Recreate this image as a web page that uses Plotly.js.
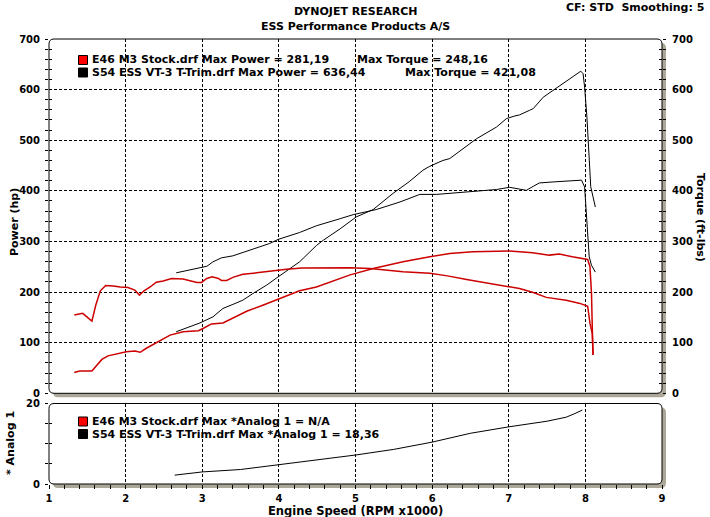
<!DOCTYPE html>
<html>
<head>
<meta charset="utf-8">
<script src="https://cdn.plot.ly/plotly-3.0.1.min.js"></script>
<style>
  html, body { margin: 0; padding: 0; background: #fff; }
  #chart { width: 710px; height: 517px; }
</style>
</head>
<body>
<div id="chart"></div>
<script>
// E46 M3 stock run (red)
const e46PowerRpm = [1.33, 1.40, 1.56, 1.62, 1.69, 1.77, 1.90, 2.01, 2.12, 2.19, 2.27, 2.40, 2.58, 2.75, 2.95, 3.01, 3.12, 3.27, 3.40, 3.58, 3.79, 4.01, 4.27, 4.49, 4.71, 4.93, 5.23, 5.45, 5.62, 5.97, 6.23, 6.53, 6.84, 7.01, 7.14, 7.31, 7.53, 7.66, 7.83, 7.99, 8.03, 8.06, 8.08, 8.09, 8.10];
const e46Power    = [41, 44, 44, 54, 67, 74, 79, 82, 83.5, 81, 89, 100.6, 115, 121.6, 123.6, 128, 137, 139, 149, 162, 174, 187.5, 202.5, 210, 222, 234, 246.7, 254, 260, 269.6, 276, 279.5, 280.5, 281.2, 279.5, 277.5, 273, 275, 269.6, 266, 264.5, 250, 197, 131, 75.6];
const e46TorqueRpm = [1.33, 1.44, 1.56, 1.61, 1.67, 1.74, 1.84, 1.93, 2.03, 2.12, 2.18, 2.24, 2.32, 2.40, 2.49, 2.60, 2.75, 2.84, 2.93, 2.99, 3.06, 3.13, 3.21, 3.25, 3.32, 3.40, 3.53, 3.71, 3.90, 4.10, 4.30, 4.58, 4.93, 5.19, 5.45, 5.62, 5.97, 6.20, 6.45, 6.70, 7.01, 7.14, 7.32, 7.49, 7.75, 7.93, 8.03, 8.06, 8.09, 8.10];
const e46Torque    = [154.5, 158, 142.7, 174, 202.5, 213, 212, 209.8, 209, 204, 194, 202.5, 210, 219.6, 222, 227, 226, 223, 219, 219, 227, 230, 227, 223, 223, 229, 235, 238, 242, 245, 247.5, 248.2, 248, 246.7, 243, 240, 237, 232, 225, 218, 210, 207, 199, 189.5, 184, 177.6, 172, 138, 118, 75.6];

// S54 ESS VT-3 run (black)
const s54PowerRpm = [2.66, 2.84, 2.97, 3.14, 3.27, 3.40, 3.53, 3.66, 3.84, 3.99, 4.14, 4.27, 4.49, 4.58, 4.80, 5.01, 5.23, 5.49, 5.70, 5.88, 5.97, 6.14, 6.23, 6.40, 6.58, 6.84, 6.97, 7.08, 7.14, 7.27, 7.32, 7.45, 7.58, 7.75, 7.86, 7.94, 7.97, 7.99, 8.02, 8.05, 8.07, 8.10, 8.13];
const s54Power    = [121.6, 131.4, 139, 151, 167.7, 175.6, 184, 197, 213.7, 230, 246.7, 259.7, 292, 302.5, 325, 348.5, 363, 395, 418, 440.7, 448.6, 460, 463.8, 482, 503, 526, 542.7, 548, 550, 559, 562.5, 585, 598.6, 618, 628, 636.4, 631.5, 605, 546, 467, 408, 388, 368];
const s54TorqueRpm = [2.66, 2.80, 2.93, 3.06, 3.14, 3.25, 3.40, 3.53, 3.71, 3.88, 3.99, 4.14, 4.27, 4.49, 4.58, 4.80, 4.97, 5.27, 5.58, 5.84, 6.06, 6.45, 6.84, 7.01, 7.19, 7.23, 7.32, 7.40, 7.58, 7.75, 7.95, 7.99, 8.02, 8.05, 8.08, 8.13];
const s54Torque    = [238, 243, 246.7, 251, 259.7, 267.6, 271.6, 278, 288, 296, 304, 311, 317.7, 331, 335.5, 345, 353, 363, 378, 393, 393, 398, 402.6, 407, 402.6, 401, 409, 415.6, 417.6, 419, 421.1, 407.7, 329, 269.6, 253, 239.4];
const s54AnalogRpm = [2.64, 3.0, 3.5, 4.0, 4.4, 5.0, 5.5, 6.0, 6.5, 7.0, 7.5, 7.75, 7.85, 7.96];
const s54Analog    = [2.2, 3.0, 3.6, 4.8, 5.6, 7.2, 8.6, 10.4, 12.6, 14.2, 15.6, 16.6, 17.4, 18.36];

const analogTicks = [0, 5, 10, 15, 20];
const analogTickText = ['0', '', '', '', '20'];

// plot frame in page pixels
const L = 49, R = 662, T = 39, B = 484;
const W = R - L, H = B - T;
const px = x => (x - L) / W;
const py = y => (B - y) / H;
const mainBottom = 393.3, lowTop = 403.5;

const RED = '#cc0000';
const font = { family: 'DejaVu Sans', size: 11, color: '#000', weight: 'bold' };
const tickFont = { family: 'DejaVu Sans', size: 10, color: '#000', weight: 'bold' };

function roundRect(x0, y0, x1, y1, r) {
    const p = (x, y) => px(x).toFixed(5) + ',' + py(y).toFixed(5);
    return 'M' + p(x0 + r, y0) + ' L' + p(x1 - r, y0) + ' Q' + p(x1, y0) + ' ' + p(x1, y0 + r) +
        ' L' + p(x1, y1 - r) + ' Q' + p(x1, y1) + ' ' + p(x1 - r, y1) +
        ' L' + p(x0 + r, y1) + ' Q' + p(x0, y1) + ' ' + p(x0, y1 - r) +
        ' L' + p(x0, y0 + r) + ' Q' + p(x0, y0) + ' ' + p(x0 + r, y0) + ' Z';
}

function frame(y0, y1) {
    return [
        { type: 'path', xref: 'paper', yref: 'paper', layer: 'below', path: roundRect(L + 4, y0 + 4, R + 4, y1 + 4, 5),
          fillcolor: '#aca899', line: { width: 0 } },
        { type: 'path', xref: 'paper', yref: 'paper', layer: 'below', path: roundRect(L, y0, R, y1, 5),
          fillcolor: '#fff', line: { color: '#000', width: 1 } }
    ];
}

function swatch(y, color) {
    return { type: 'rect', xref: 'paper', yref: 'paper', layer: 'above',
        x0: px(78.5), x1: px(87.5), y0: py(y - 4.5), y1: py(y + 4.5),
        fillcolor: color, line: { color: '#000', width: 1 } };
}

function label(text, x, y, opts = {}) {
    return Object.assign({ text: text, xref: 'paper', yref: 'paper', x: px(x), y: py(y),
        xanchor: 'left', yanchor: 'middle', showarrow: false, font: font }, opts);
}

const line = (x, y, color, width, xa, ya) => ({
    x: x, y: y, type: 'scatter', mode: 'lines', xaxis: xa, yaxis: ya,
    line: { color: color, width: width }, hoverinfo: 'skip', showlegend: false
});
const dummy = (xa, ya) => ({ x: [null], y: [null], type: 'scatter', mode: 'lines', xaxis: xa, yaxis: ya, showlegend: false, hoverinfo: 'skip' });

const traces = [
    line(e46PowerRpm, e46Power, RED, 1.5, 'x', 'y'),
    line(e46TorqueRpm, e46Torque, RED, 1.5, 'x', 'y2'),
    line(s54PowerRpm, s54Power, '#000', 1, 'x', 'y'),
    line(s54TorqueRpm, s54Torque, '#000', 1, 'x', 'y2'),
    line(s54AnalogRpm, s54Analog, '#000', 1, 'x2', 'y5'),
    dummy('x', 'y3'), dummy('x', 'y4'), dummy('x2', 'y6')
];

const mainDomain = [py(mainBottom), 1];
const lowDomain = [0, py(lowTop)];
const grid = { showgrid: true, gridcolor: '#000', gridwidth: 1, griddash: '3px,2px' };
const tickOut = { ticks: 'outside', ticklen: 3, tickcolor: '#000', tickwidth: 1 };
const tickIn = { ticks: 'inside', ticklen: 3, tickcolor: '#000', tickwidth: 1 };

const layout = {
    width: 710, height: 517,
    margin: { l: L, r: 710 - R, t: T, b: 517 - B, pad: 0 },
    paper_bgcolor: '#fff', plot_bgcolor: 'rgba(0,0,0,0)',
    showlegend: false,
    xaxis: Object.assign({ domain: [0, 1], anchor: 'y', range: [1, 9], dtick: 1, ticks: '', showticklabels: false,
        showline: false, zeroline: false }, grid),
    yaxis: Object.assign({ domain: mainDomain, anchor: 'x', range: [0, 700], dtick: 100, showgrid: false, zeroline: false,
        showline: false, tickfont: tickFont, ticklabelstandoff: 3,
        minor: { dtick: 20, ticks: 'outside', ticklen: 3, tickcolor: '#000' } }, tickOut, grid),
    yaxis2: Object.assign({ overlaying: 'y', side: 'right', anchor: 'x', range: [0, 700], dtick: 100, showgrid: false,
        zeroline: false, showline: false, tickfont: tickFont, ticklabelstandoff: 4,
        minor: { dtick: 20, ticks: 'outside', ticklen: 3, tickcolor: '#000' } }, tickOut),
    yaxis3: Object.assign({ overlaying: 'y', side: 'left', anchor: 'x', range: [0, 700], dtick: 100, showgrid: false,
        zeroline: false, showline: false, showticklabels: false,
        minor: { dtick: 20, ticks: 'inside', ticklen: 3, tickcolor: '#000' } }, tickIn),
    yaxis4: Object.assign({ overlaying: 'y', side: 'right', anchor: 'x', range: [0, 700], dtick: 100, showgrid: false,
        zeroline: false, showline: false, showticklabels: false,
        minor: { dtick: 20, ticks: 'inside', ticklen: 3, tickcolor: '#000' } }, tickIn),
    xaxis2: Object.assign({ domain: [0, 1], anchor: 'y5', range: [1, 9], dtick: 1, zeroline: false, showline: false,
        tickfont: tickFont, ticks: 'outside', ticklen: 4, tickcolor: '#000', ticklabelstandoff: 1,
        minor: { dtick: 0.2, ticks: 'outside', ticklen: 4, tickcolor: '#000' } }, grid),
    yaxis5: Object.assign({ domain: lowDomain, anchor: 'x2', range: [0, 20], tickvals: analogTicks, ticktext: analogTickText,
        showgrid: false, zeroline: false, showline: false, tickfont: tickFont, ticklabelstandoff: 3,
        ticklabelshift: -1.5 }, tickOut),
    yaxis6: Object.assign({ overlaying: 'y5', side: 'left', anchor: 'x2', range: [0, 20], tickvals: analogTicks,
        showgrid: false, zeroline: false, showline: false, showticklabels: false }, tickIn),
    shapes: [].concat(frame(T, mainBottom), frame(lowTop, B), [
        swatch(60, '#ff0000'), swatch(72.5, '#000'),
        swatch(421.5, '#ff0000'), swatch(434, '#000')
    ]),
    annotations: [
        label('DYNOJET RESEARCH', 356, 11, { xanchor: 'center' }),
        label('ESS Performance Products A/S', 356, 26, { xanchor: 'center' }),
        label('CF: STD\u00a0\u00a0Smoothing: 5', 706, 8, { xanchor: 'right' }),
        label('E46 M3 Stock.drf Max Power = 281,19', 90, 60),
        label('Max Torque = 248,16', 355, 60),
        label('S54 ESS VT-3 T-Trim.drf Max Power = 636,44', 90, 72.5),
        label('Max Torque = 421,08', 403, 72.5),
        label('E46 M3 Stock.drf Max *Analog 1 = N/A', 90, 421.5),
        label('S54 ESS VT-3 T-Trim.drf Max *Analog 1 = 18,36', 90, 434),
        label('Power (hp)', 14, 222, { xanchor: 'center', textangle: -90 }),
        label('Torque (ft-lbs)', 701, 218, { xanchor: 'center', textangle: 90 }),
        label('* Analog 1', 10, 443, { xanchor: 'center', textangle: -90 }),
        label('Engine Speed (RPM x1000)', 356, 510.5, { xanchor: 'center', borderpad: 0,
            font: { family: 'DejaVu Sans', size: 11.5, color: '#000', weight: 'bold' } })
    ]
};

Plotly.newPlot('chart', traces, layout, { displayModeBar: false, staticPlot: true });
</script>
</body>
</html>
